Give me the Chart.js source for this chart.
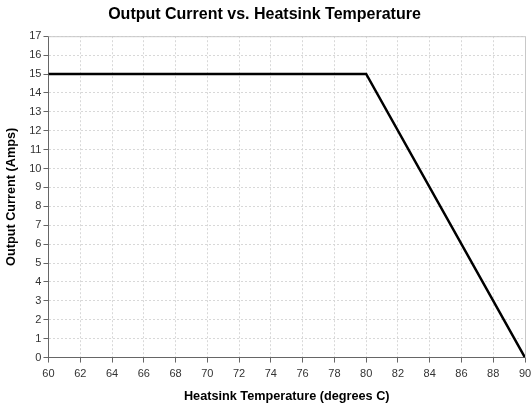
<!DOCTYPE html>
<html><head><meta charset="utf-8">
<script src="https://cdn.jsdelivr.net/npm/chart.js@4/dist/chart.umd.min.js"></script>
<style>html,body{margin:0;padding:0;background:#fff}#wrap{width:531px;height:404px}</style>
</head><body><div id="wrap"><canvas id="c" width="531" height="404"></canvas></div>
<script>
const temps = [60, 80, 90];
const currents = [15, 15, 0];
const xTicks = [60,62,64,66,68,70,72,74,76,78,80,82,84,86,88,90];
const yTicks = [0,1,2,3,4,5,6,7,8,9,10,11,12,13,14,15,16,17];
const titleText = 'Output Current vs. Heatsink Temperature';
const xTitle = 'Heatsink Temperature (degrees C)';
const yTitle = 'Output Current (Amps)';

const border = {
  id: 'border',
  afterDraw(chart) {
    const {ctx, chartArea: a} = chart;
    ctx.save();
    ctx.strokeStyle = '#c8c8c8';
    ctx.lineWidth = 1;
    ctx.beginPath();
    ctx.moveTo(a.left, a.top + 0.5);
    ctx.lineTo(a.right + 0.5, a.top + 0.5);
    ctx.lineTo(a.right + 0.5, a.bottom);
    ctx.stroke();
    ctx.restore();
  }
};

new Chart(document.getElementById('c'), {
  type: 'scatter',
  data: { datasets: [{
    data: temps.map((t, i) => ({x: t, y: currents[i]})),
    showLine: true, borderColor: '#000', borderWidth: 2.5,
    pointRadius: 0, fill: false, tension: 0
  }]},
  options: {
    responsive: false, animation: false, devicePixelRatio: 1,
    layout: { padding: { left: 4, right: 6, top: 0, bottom: 0 } },
    plugins: {
      legend: { display: false }, tooltip: { enabled: false },
      title: { display: true, text: titleText, color: '#000',
        font: { family: 'Liberation Sans, Arial', size: 16, weight: 'bold' },
        padding: { top: 5, bottom: 12 } }
    },
    scales: {
      x: { type: 'linear', min: 60, max: 90,
        afterBuildTicks: s => { s.ticks = xTicks.map(v => ({value: v})); },
        afterFit: s => { s.paddingRight = 0; },
        ticks: { color: '#333', font: { family: 'Liberation Sans, Arial', size: 11 }, padding: 5, maxRotation: 0 },
        grid: { color: '#d8d8d8', tickColor: '#666', tickLength: 5, drawOnChartArea: true },
        border: { color: '#666', dash: [2, 2] },
        title: { display: true, text: xTitle, color: '#000',
          font: { family: 'Liberation Sans, Arial', size: 12.7, weight: 'bold' }, padding: { top: 3, bottom: 0 } }
      },
      y: { type: 'linear', min: 0, max: 17,
        afterBuildTicks: s => { s.ticks = yTicks.map(v => ({value: v})); },
        ticks: { color: '#333', font: { family: 'Liberation Sans, Arial', size: 11 }, padding: 2 },
        grid: { color: '#d8d8d8', tickColor: '#666', tickLength: 5 },
        border: { color: '#666', dash: [2, 2] },
        title: { display: true, text: yTitle, color: '#000',
          font: { family: 'Liberation Sans, Arial', size: 12.7, weight: 'bold' }, padding: { top: 0, bottom: 8 } }
      }
    }
  },
  plugins: [border]
});
</script></body></html>
